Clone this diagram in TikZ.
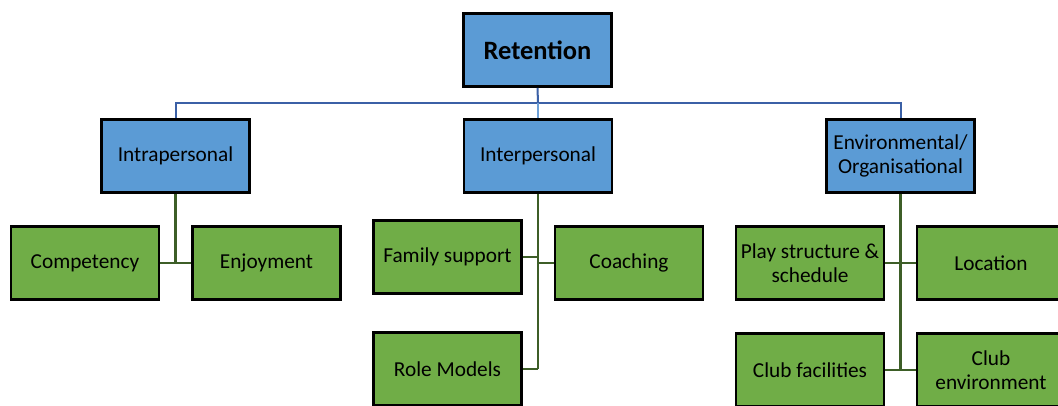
\documentclass[tikz,border=0pt]{standalone}
\usepackage{fontspec}
\setmainfont{Carlito}
\definecolor{boxblue}{RGB}{91,155,213}
\definecolor{boxgreen}{RGB}{112,173,71}
\definecolor{linkblue}{RGB}{59,96,166}
\definecolor{linklight}{RGB}{110,160,215}
\definecolor{linkgreen}{RGB}{61,94,39}
\tikzset{
  box/.style={draw=black, line width=2.6pt, minimum width=148pt, minimum height=73pt,
    inner sep=2pt, align=center, font=\fontsize{21.3}{23.5}\selectfont},
  topbox/.style={box, fill=boxblue, font=\bfseries\fontsize{26.5}{30}\selectfont},
  catbox/.style={box, fill=boxblue},
  itembox/.style={box, fill=boxgreen},
  bluelink/.style={draw=linkblue, line width=2pt},
  greenlink/.style={draw=linkgreen, line width=2.2pt},
}
\begin{document}
\begin{tikzpicture}[x=1pt, y=-1pt]
\useasboundingbox (0,0) rectangle (1058,405);
\clip (0,0) rectangle (1058,405);

% root and category level
\node[topbox]  (ret)   at (537.5,50)  {Retention};
\node[catbox]  (intra) at (175.5,156) {Intrapersonal};
\node[catbox]  (inter) at (538,156)   {Interpersonal};
\node[catbox]  (env)   at (900.5,156) {Environmental/\\Organisational};

% factor level
\node[itembox] (comp)  at (85,263)    {Competency};
\node[itembox] (enj)   at (266.5,263) {Enjoyment};
\node[itembox] (fam)   at (447.5,257) {Family support};
\node[itembox] (coach) at (629,263)   {Coaching};
\node[itembox] (role)  at (447.5,369) {Role Models};
\node[itembox] (play)  at (810,263)   {Play structure \&\\schedule};
\node[itembox] (loc)   at (991,263)   {Location};
\node[itembox] (cfac)  at (810,370)   {Club facilities};
\node[itembox] (cenv)  at (991,370)   {Club\\environment};

% blue bus from the root
\coordinate (bus) at (538,103);
\draw[bluelink] (ret.south) -- (bus);
\draw[bluelink] (intra.north) -- (intra.north |- bus) -- (env.north |- bus) -- (env.north);
\draw[draw=linklight, line width=2pt] (bus) -- (inter.north);

% green links to the factors
\draw[greenlink] (intra.south) -- (intra.south |- comp.east);
\draw[greenlink] (comp.east) -- (enj.west);

\draw[greenlink] (inter.south) -- (inter.south |- role.east);
\draw[greenlink] (fam.east) -- (fam.east -| inter.south);
\draw[greenlink] (coach.west) -- (coach.west -| inter.south);
\draw[greenlink] (role.east) -- (role.east -| inter.south);

\draw[greenlink] (env.south) -- (env.south |- cfac.east);
\draw[greenlink] (play.east) -- (loc.west);
\draw[greenlink] (cfac.east) -- (cenv.west);
\end{tikzpicture}
\end{document}
